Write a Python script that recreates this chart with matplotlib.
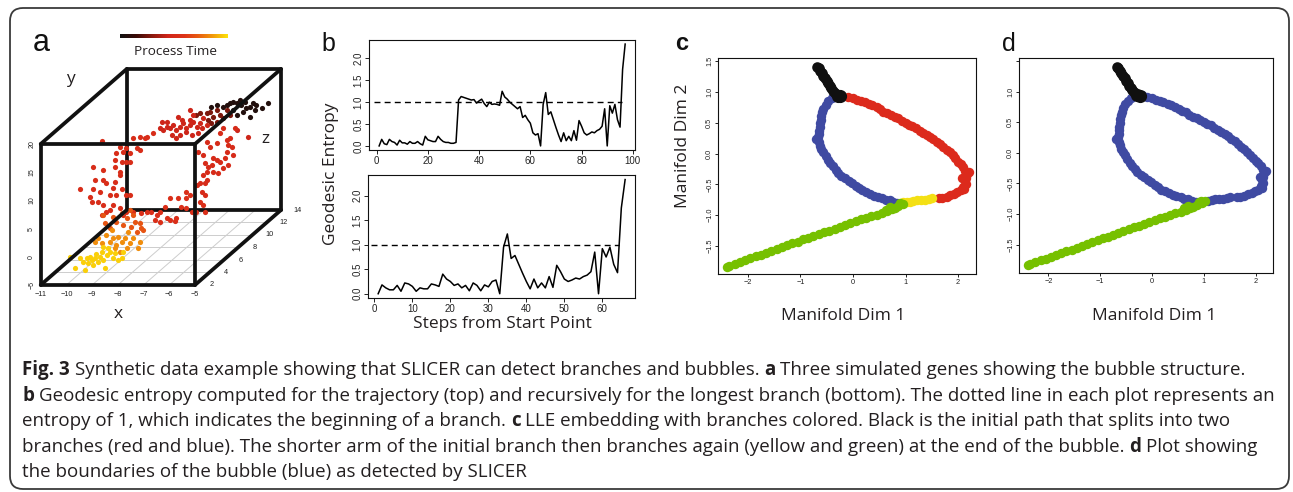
import matplotlib
matplotlib.use("Agg")
import matplotlib.pyplot as plt
import numpy as np
from matplotlib.colors import LinearSegmentedColormap
from matplotlib.patches import FancyBboxPatch
from matplotlib.transforms import IdentityTransform
from matplotlib.ticker import FuncFormatter

plt.rcParams['font.family'] = ['Liberation Sans', 'DejaVu Sans']
plt.rcParams['axes.unicode_minus'] = True
LABEL_FONT = ['Open Sans', 'DejaVu Sans']
INK = '#231f20'

# ======================= DATA =======================
# ---- panel a: three simulated genes (x, y, z) grouped by process-time colour ----
yellow_x = [-10.14, -9.95, -9.75, -9.62, -9.56, -9.49, -9.43, -9.36, -9.30, -9.23, -9.17, -9.11, -9.04,
            -8.98, -8.91, -8.85, -8.78, -8.72, -8.59, -8.46, -8.39, -8.26, -8.13, -8.07, -8.85, -8.65]
yellow_y = [-1.2, -3.15, -1.38, -1.97, -3.45, -1.38, -2.27, -1.08, -1.68, -2.56, -1.38, -0.67, -1.97,
            -1.08, -0.2, -1.68, -3.15, -0.79, -0.2, -1.38, -0.49, -1.68, -1.38, -0.2, 0.69, 0.39]
orange_x = [-9.45, -9.32, -9.19, -9.0, -8.87, -8.74, -8.61, -8.54, -8.41, -8.28, -8.15, -8.09, -7.96,
            -7.77, -7.70, -8.67, -8.48, -8.22, -8.80]
orange_y = [0.47, 1.06, 0.17, 1.65, 0.47, 1.06, -0.13, 1.35, 0.47, 1.06, 2.24, 0.17, 1.06,
            -0.72, 0.47, -0.72, -1.31, -0.72, 2.53]
orangered_x = [-9.20, -9.01, -8.75, -8.49, -8.36, -8.17, -8.04, -7.97, -7.78, -8.10, -8.55, -8.88,
               -9.27, -8.23, -7.84, -7.71]
orangered_y = [3.17, 2.28, 3.46, 2.87, 4.05, 2.57, 3.46, 1.69, 2.28, 4.64, 4.94, 4.35,
               4.64, 5.53, 3.17, 1.98]
leftarm_x = [-9.47, -9.28, -9.15, -9.02, -8.76, -8.63, -8.50, -8.89, -8.50, -8.37,
             -9.41, -9.60, -9.86, -9.92, -10.31, -9.79, -9.54, -9.15, -9.02, -8.69,
             -9.73, -9.41, -9.28, -8.95, -8.76, -9.79, -9.41, -8.95, -8.76, -8.69,
             -8.50, -8.37, -8.95, -8.89, -8.63, -8.50, -8.11, -7.98, -8.37, -8.76,
             -8.24, -7.98, -7.79, -9.47, -7.72, -7.46]
leftarm_y = [4.09, 4.68, 4.98, 5.87, 5.28, 4.09, 4.68, 7.64, 7.64, 7.64,
             5.87, 6.46, 6.46, 7.34, 8.7, 8.7, 8.23, 7.64, 8.82, 8.7,
             10.3, 10.3, 9.71, 10.0, 11.19, 12.66, 12.07, 12.66, 11.78, 13.55,
             13.55, 13.55, 13.85, 15.03, 15.32, 15.91, 15.91, 15.62, 15.03, 16.21,
             17.69, 17.98, 17.69, 17.21, 17.98, 18.57]
floor_x = [-8.52, -8.20, -8.0, -7.81, -7.61, -7.48, -7.68, -7.48, -7.22, -7.10, -6.90, -6.84, -7.29,
           -7.10, -6.77, -6.45, -6.25, -6.06, -5.74, -6.45, -6.32, -5.93, -5.80, -6.45, -6.64]
floor_y = [3.57, 3.28, 3.57, 3.46, 2.98, 3.57, 2.10, 1.8, 2.39, 2.1, 1.92, 2.39, 4.46,
           5.94, 5.94, 5.94, 3.57, 3.57, 3.57, 7.12, 6.53, 5.35, 4.76, 4.17, 4.46]
rightarm_x = [-6.61, -6.48, -6.29, -6.22, -6.41, -6.29, -6.35, -6.22, -6.16, -6.03, -5.96, -5.83,
              -5.77, -5.70, -5.57, -5.51, -5.44, -5.38, -5.25, -5.44, -5.31, -5.18, -5.12, -5.57,
              -5.70, -5.83, -6.09, -6.22, -6.54, -6.35, -6.29, -5.96, -5.38]
rightarm_y = [6.08, 6.38, 6.38, 6.97, 4.9, 4.31, 7.86, 8.45, 9.33, 9.63, 10.81, 10.52,
              8.15, 10.22, 9.04, 10.81, 11.99, 13.17, 12.88, 14.06, 14.36, 11.4, 16.13, 16.13,
              15.24, 13.47, 12.88, 13.77, 11.99, 11.4, 9.92, 8.45, 9.63]
upper_x = [-8.59, -8.46, -8.33, -8.21, -8.08, -7.95, -7.82, -7.69, -7.56, -7.43, -7.30, -7.17,
           -7.56, -7.36, -7.82, -7.95, -8.14, -8.53, -8.33, -7.88, -7.75, -7.43, -7.30, -7.04,
           -6.91, -6.97, -6.78, -7.10, -7.43, -5.16, -5.61]
upper_y = [13.92, 13.62, 14.22, 13.92, 14.51, 13.62, 14.22, 14.81, 13.92, 14.51, 15.1, 14.22,
           13.33, 12.74, 12.74, 12.15, 12.74, 15.1, 15.1, 15.99, 15.4, 15.4, 16.28, 14.81,
           15.69, 13.92, 14.51, 13.03, 17.17, 12.44, 13.62]
brown_x = [-7.59, -7.46, -7.20, -7.07, -6.94, -6.81, -6.68, -6.55, -6.81, -7.01, -7.14, -6.42, -6.29]
brown_y = [14.61, 14.91, 14.91, 15.2, 14.32, 15.5, 14.61, 14.02, 13.43, 13.14, 13.73, 15.5, 14.61]
dark_x = [-7.29, -7.09, -6.83, -6.70, -6.57, -6.44, -6.31, -6.19, -6.12, -5.99, -5.93, -5.80,
          -5.67, -5.54, -5.34, -5.08, -5.80, -6.31, -6.44, -6.06, -5.60]
dark_y = [14.99, 15.29, 14.99, 15.29, 15.58, 15.88, 15.58, 16.17, 15.29, 15.88, 14.7, 14.99,
          15.58, 15.29, 14.7, 15.58, 13.22, 13.51, 14.4, 14.1, 14.4]
# depth (gene z) and process time of each group, in drawing order
group_x = [dark_x, brown_x, upper_x, rightarm_x, floor_x, leftarm_x, orangered_x, orange_x, yellow_x]
group_y = [dark_y, brown_y, upper_y, rightarm_y, floor_y, leftarm_y, orangered_y, orange_y, yellow_y]
group_z = [12.5, 11.5, 10.0, 8.0, 6.0, 5.0, 4.5, 4.0, 3.0]
group_time = [0.06, 0.27, 0.44, 0.5, 0.55, 0.52, 0.7, 0.83, 0.96]

a_xlim, a_ylim, a_zlim = (-11, -5), (-5, 20), (2, 14)
a_xticks = [-11, -10, -9, -8, -7, -6, -5]
a_yticks = [-5, 0, 5, 10, 15, 20]
a_zticks = [2, 4, 6, 8, 10, 12, 14]

# ---- panel b: geodesic entropy ----
entropy_top = [0.0, 0.15, 0.05, 0.03, 0.15, 0.1, 0.08, 0.02, 0.13, 0.07, 0.07, 0.04, 0.1, 0.06, 0.06,
               0.1, 0.05, 0.02, 0.22, 0.14, 0.12, 0.1, 0.1, 0.22, 0.15, 0.1, 0.08, 0.08, 0.06, 0.06,
               0.08,
               1.05, 1.13, 1.11, 1.09, 1.07, 1.05, 1.06, 0.98, 1.03, 1.07, 0.97, 0.9, 1.0, 0.95, 0.96,
               0.95, 0.93, 1.25, 1.12, 1.07, 1.0, 0.95, 0.9, 0.85, 0.9, 0.65, 0.7, 0.6, 0.52, 0.3,
               0.25, 0.28, 0.0,
               0.95, 1.22, 0.72, 0.78, 0.6, 0.42, 0.25, 0.1, 0.3, 0.12, 0.22, 0.12, 0.35, 0.13, 0.58,
               0.45, 0.3, 0.25, 0.28, 0.32, 0.3, 0.35, 0.38, 0.45, 0.85, 0.0, 0.92, 0.75, 0.95, 0.6,
               0.43, 1.75, 2.33]
entropy_bottom = [0.0, 0.18, 0.12, 0.08, 0.08, 0.17, 0.05, 0.22, 0.2, 0.15, 0.05, 0.12, 0.1, 0.1, 0.2,
                  0.18, 0.15, 0.4, 0.3, 0.25, 0.17, 0.2, 0.12, 0.17, 0.06, 0.22, 0.17, 0.06, 0.18, 0.14,
                  0.25, 0.28, 0.0, 0.95, 1.22, 0.72, 0.78, 0.6, 0.42, 0.25, 0.1, 0.3, 0.12, 0.22, 0.12,
                  0.35, 0.13, 0.58, 0.45, 0.3, 0.25, 0.28, 0.32, 0.3, 0.35, 0.38, 0.45, 0.85, 0.0, 0.92,
                  0.75, 0.95, 0.6, 0.43, 1.75, 2.33]
entropy_threshold = 1.0
threshold_span_top = [-1.2, 95.6]
threshold_span_bottom = [-1.0, 64.4]
b_yticks = [0.0, 0.5, 1.0, 1.5, 2.0]
b_xticks_top = [0, 20, 40, 60, 80, 100]
b_xticks_bottom = [0, 10, 20, 30, 40, 50, 60]

# ---- panels c, d: LLE embedding ----
black_x = [-0.68, -0.65, -0.62, -0.59, -0.56, -0.53, -0.50, -0.47, -0.44, -0.41, -0.38, -0.35]
black_y = [1.41, 1.38, 1.34, 1.30, 1.26, 1.22, 1.18, 1.14, 1.10, 1.06, 1.02, 0.99]
black_end_x = [-0.29, -0.24]
black_end_y = [0.94, 0.93]
red_x = [-0.20, -0.10, 0.00, 0.08, 0.15, 0.22, 0.30, 0.37, 0.45, 0.52, 0.58, 0.65, 0.72, 0.80, 0.86,
         0.93, 1.00, 1.07, 1.13, 1.20, 1.27, 1.34, 1.40, 1.47, 1.53, 1.60, 1.66, 1.72, 1.78, 1.84,
         1.90, 1.95, 2.00, 2.05, 2.10, 2.14, 2.17, 2.20, 2.08, 2.15, 2.13, 2.15, 2.12, 2.10, 2.05,
         1.98, 1.92, 1.85, 1.78, 1.70, 1.64]
red_y = [0.94, 0.92, 0.90, 0.87, 0.85, 0.83, 0.80, 0.78, 0.75, 0.72, 0.68, 0.66, 0.62, 0.59, 0.57,
         0.53, 0.50, 0.47, 0.45, 0.41, 0.37, 0.34, 0.30, 0.27, 0.23, 0.19, 0.15, 0.10, 0.06, 0.02,
         -0.03, -0.08, -0.13, -0.17, -0.22, -0.28, -0.33, -0.30, -0.40, -0.39, -0.45, -0.50, -0.58,
         -0.55, -0.60, -0.63, -0.66, -0.68, -0.71, -0.73, -0.73]
blue_x = [-0.32, -0.40, -0.47, -0.52, -0.56, -0.58, -0.60, -0.61, -0.62, -0.63, -0.64, -0.64, -0.66,
          -0.70, -0.64, -0.62, -0.60, -0.56, -0.52, -0.48, -0.43, -0.38, -0.33, -0.28, -0.22, -0.15,
          -0.08, -0.02, 0.05, 0.12, 0.18, 0.25, 0.32, 0.40, 0.47, 0.55, 0.62, 0.70, 0.77, 0.84]
blue_y = [0.95, 0.90, 0.85, 0.79, 0.73, 0.67, 0.61, 0.55, 0.49, 0.43, 0.37, 0.31, 0.26, 0.23, 0.18,
          0.12, 0.07, 0.02, -0.04, -0.10, -0.16, -0.21, -0.27, -0.32, -0.36, -0.40, -0.44, -0.48,
          -0.52, -0.56, -0.60, -0.63, -0.66, -0.69, -0.71, -0.73, -0.75, -0.76, -0.78, -0.80]
yellow_cx = [0.95, 1.02, 1.08, 1.15, 1.22, 1.30, 1.37, 1.44, 1.50]
yellow_cy = [-0.79, -0.78, -0.78, -0.77, -0.76, -0.75, -0.75, -0.74, -0.73]
green_x = [0.96, 0.90, 0.86, 0.80, 0.74, 0.70, 0.62, 0.65, 0.55, 0.45, 0.35, 0.25, 0.15, 0.05, -0.05,
           -0.15, -0.25, -0.35, -0.45, -0.55, -0.65, -0.75, -0.85, -0.95, -1.05, -1.15, -1.25, -1.35,
           -1.45, -1.55, -1.65, -1.75, -1.85, -1.95, -2.05, -2.15, -2.25, -2.35, -2.39]
green_y = [-0.82, -0.81, -0.85, -0.88, -0.90, -0.87, -0.91, -0.93, -0.96, -0.99, -1.02, -1.05, -1.07,
           -1.10, -1.13, -1.16, -1.19, -1.22, -1.25, -1.28, -1.31, -1.34, -1.37, -1.39, -1.43, -1.46,
           -1.49, -1.52, -1.55, -1.59, -1.61, -1.64, -1.67, -1.70, -1.73, -1.76, -1.79, -1.82, -1.84]
bubble_split_x = 1.05   # yellow cells beyond this belong to the bubble (panel d)
m_xlim, m_ylim = (-2.56, 2.34), (-1.96, 1.545)
m_xticks = [-2, -1, 0, 1, 2]
m_yticks = [-1.5, -1.0, -0.5, 0.0, 0.5, 1.0, 1.5]

COL_RED, COL_BLUE, COL_GREEN, COL_YELLOW, COL_BLACK = '#dc2a1c', '#3f4aa2', '#76c000', '#f4e014', '#101010'

# ======================= FIGURE =======================
W, H = 1293, 492
fig = plt.figure(figsize=(W / 100, H / 100), dpi=100)
fig.patch.set_facecolor('white')


def ax_px(l, t, r, b):
    return fig.add_axes([l / W, 1 - b / H, (r - l) / W, (b - t) / H])


def fig_text(x, y, s, **kw):
    return fig.text(x / W, 1 - y / H, s, **kw)


def umin(v, fmt):
    return (fmt % v).replace('-', '\u2212')


# border
fig.add_artist(FancyBboxPatch((10, H - 489), 1279, 481, boxstyle="round,pad=0,rounding_size=13",
                              transform=IdentityTransform(), fill=False, edgecolor='#3a3a3a', lw=1.3))

# ---------------- panel a ----------------
cmap = LinearSegmentedColormap.from_list('ptime', [(0.0, '#121212'), (0.15, '#3a0a06'), (0.3, '#8c1a0e'),
                                                   (0.45, '#d2261a'), (0.6, '#de3418'), (0.72, '#e85a12'),
                                                   (0.86, '#f29a0a'), (1.0, '#fde30a')])
FL, FR, FB, FT = 40.7, 195.0, 285.0, 144.0      # front face in pixels
DPX, DPY = 86.0, 75.0                            # depth offset in pixels
AL, AT, AR, AB = 10, 58, 305, 302
axA = ax_px(AL, AT, AR, AB)
ppx = (FR - FL) / (a_xlim[1] - a_xlim[0])
ppy = (FB - FT) / (a_ylim[1] - a_ylim[0])
axA.set_xlim(a_xlim[0] - (FL - AL) / ppx, a_xlim[0] + (AR - FL) / ppx)
axA.set_ylim(a_ylim[0] - (AB - FB) / ppy, a_ylim[0] + (FB - AT) / ppy)
axA.axis('off')
kx = DPX / (a_zlim[1] - a_zlim[0]) / ppx
ky = DPY / (a_zlim[1] - a_zlim[0]) / ppy


def proj(x, y, z):
    x, y, z = np.asarray(x, float), np.asarray(y, float), np.asarray(z, float)
    return x + kx * (z - a_zlim[0]), y + ky * (z - a_zlim[0])


x0, x1 = a_xlim
y0, y1 = a_ylim
z0, z1 = a_zlim
for zt in a_zticks:
    u, v = proj([x0, x1], [y0, y0], [zt, zt])
    axA.plot(u, v, color='#cdcdcd', lw=0.7, zorder=0.5)
for xt in a_xticks[1:-1]:
    u, v = proj([xt, xt], [y0, y0], [z0, z1])
    axA.plot(u, v, color='#cdcdcd', lw=0.7, zorder=0.5)


def edge(p, q, zo):
    u, v = proj([p[0], q[0]], [p[1], q[1]], [p[2], q[2]])
    axA.plot(u, v, color='#111111', lw=2.7, solid_capstyle='round', zorder=zo)


sq = [(x0, y0), (x1, y0), (x1, y1), (x0, y1)]
for i in range(4):
    p, q = sq[i], sq[(i + 1) % 4]
    edge((p[0], p[1], z1), (q[0], q[1], z1), 1)
for i in range(4):
    p, q = sq[i], sq[(i + 1) % 4]
    edge((p[0], p[1], z0), (q[0], q[1], z0), 4)
    edge((p[0], p[1], z0), (p[0], p[1], z1), 4)

for gx, gy, gz, gt in zip(group_x, group_y, group_z, group_time):
    u, v = proj(gx, gy, [gz] * len(gx))
    axA.scatter(u, v, s=14, c=[cmap(gt)], linewidths=0, zorder=2)

for xt in a_xticks:
    u, v = proj(xt, y0, z0)
    axA.annotate(umin(xt, '%d'), (u, v), xytext=(0, -10), textcoords='offset pixels',
                 ha='center', va='center', fontsize=5.3, color='#222222')
for yt in a_yticks:
    u, v = proj(x0, yt, z0)
    axA.annotate(umin(yt, '%d'), (u, v), xytext=(-9, 0), textcoords='offset pixels',
                 ha='center', va='center', fontsize=5.0, rotation=90, color='#222222')
for zt in a_zticks:
    u, v = proj(x1, y0, zt)
    axA.annotate('%d' % zt, (u, v), xytext=(17, 0), textcoords='offset pixels',
                 ha='center', va='center', fontsize=5.3, color='#222222')

fig_text(118, 318, 'x', ha='center', va='baseline', fontsize=12.5, family=LABEL_FONT, color=INK)
fig_text(70, 83, 'y', ha='center', va='baseline', fontsize=12.5, family=LABEL_FONT, color=INK)
fig_text(265, 143, 'z', ha='center', va='baseline', fontsize=12.5, family=LABEL_FONT, color=INK)

cax = ax_px(120, 33.5, 228, 38.5)
cax.imshow(np.linspace(0, 1, 256)[None, :], aspect='auto', cmap=cmap)
cax.axis('off')
fig_text(175, 55, 'Process Time', ha='center', va='baseline', fontsize=9.7, family=LABEL_FONT, color=INK)

# ---------------- panel b ----------------
def style_r(ax, xt, yt, yfmt, xfmt, fs, tl):
    for s in ax.spines.values():
        s.set_linewidth(0.8)
        s.set_color('#111111')
    ax.set_xticks(xt)
    ax.set_yticks(yt)
    ax.xaxis.set_major_formatter(FuncFormatter(lambda v, p: umin(v, xfmt)))
    ax.yaxis.set_major_formatter(FuncFormatter(lambda v, p: umin(v, yfmt)))
    ax.tick_params(direction='out', length=tl, width=0.7, labelsize=fs, pad=1.5, colors='#222222')
    ax.tick_params(axis='y', labelrotation=90)
    for lab in ax.get_yticklabels():
        lab.set_va('center')


axB1 = ax_px(369.3, 40, 635, 150)
n1 = len(entropy_top)
axB1.plot(np.arange(1, n1 + 1), entropy_top, color='black', lw=1.1)
axB1.plot(threshold_span_top, [entropy_threshold] * 2, color='black', lw=1.0, ls=(0, (4.3, 3.0)))
axB1.set_xlim(1 - 0.04 * (n1 - 1), n1 + 0.04 * (n1 - 1))
axB1.set_ylim(-0.04 * max(entropy_top), max(entropy_top) * 1.04)
style_r(axB1, b_xticks_top, b_yticks, '%.1f', '%d', 7, 2.8)

axB2 = ax_px(368.3, 175, 635, 298.3)
n2 = len(entropy_bottom)
axB2.plot(np.arange(1, n2 + 1), entropy_bottom, color='black', lw=1.1)
axB2.plot(threshold_span_bottom, [entropy_threshold] * 2, color='black', lw=1.0, ls=(0, (4.3, 3.0)))
axB2.set_xlim(1 - 0.04 * (n2 - 1), n2 + 0.04 * (n2 - 1))
axB2.set_ylim(-0.04 * max(entropy_bottom), max(entropy_bottom) * 1.04)
style_r(axB2, b_xticks_bottom, b_yticks, '%.1f', '%d', 7, 2.8)

fig_text(331, 174, 'Geodesic Entropy', rotation=90, ha='center', va='center', fontsize=12.5,
         family=LABEL_FONT, color=INK)
fig_text(502, 328, 'Steps from Start Point', ha='center', va='baseline', fontsize=12.5,
         family=LABEL_FONT, color=INK)

# ---------------- panels c, d ----------------
S = 46
SB, SE = 58, 90
axC = ax_px(718.3, 58.3, 976, 274.3)
axC.scatter(blue_x, blue_y, s=S, c=COL_BLUE, linewidths=0)
axC.scatter(red_x, red_y, s=S, c=COL_RED, linewidths=0)
axC.scatter(yellow_cx, yellow_cy, s=S, c=COL_YELLOW, linewidths=0)
axC.scatter(green_x, green_y, s=S, c=COL_GREEN, linewidths=0)
axC.scatter(black_x, black_y, s=SB, c=COL_BLACK, linewidths=0)
axC.scatter(black_end_x, black_end_y, s=SE, c=COL_BLACK, linewidths=0)
axC.set_xlim(*m_xlim)
axC.set_ylim(*m_ylim)
style_r(axC, m_xticks, m_yticks, '%.1f', '%d', 5.3, 2.2)

axD = ax_px(1019.3, 58.3, 1273.3, 272.7)
yx = np.array(yellow_cx)
yy = np.array(yellow_cy)
in_bubble = yx > bubble_split_x
axD.scatter(blue_x, blue_y, s=S, c=COL_BLUE, linewidths=0)
axD.scatter(red_x, red_y, s=S, c=COL_BLUE, linewidths=0)
axD.scatter(yx[in_bubble], yy[in_bubble], s=S, c=COL_BLUE, linewidths=0)
axD.scatter(yx[~in_bubble], yy[~in_bubble], s=S, c=COL_GREEN, linewidths=0)
axD.scatter(green_x, green_y, s=S, c=COL_GREEN, linewidths=0)
axD.scatter(black_x, black_y, s=SB, c=COL_BLACK, linewidths=0)
axD.scatter(black_end_x, black_end_y, s=SE, c=COL_BLACK, linewidths=0)
axD.set_xlim(*m_xlim)
axD.set_ylim(*m_ylim)
style_r(axD, m_xticks, m_yticks, '%.1f', '%d', 5.3, 2.2)
axD.yaxis.set_major_formatter(FuncFormatter(lambda v, p: '' if v > 1.2 else umin(v, '%.1f')))

fig_text(683, 146, 'Manifold Dim 2', rotation=90, ha='center', va='center', fontsize=12.5,
         family=LABEL_FONT, color=INK)
fig_text(843, 320, 'Manifold Dim 1', ha='center', va='baseline', fontsize=12.5, family=LABEL_FONT, color=INK)
fig_text(1154, 320, 'Manifold Dim 1', ha='center', va='baseline', fontsize=12.5, family=LABEL_FONT, color=INK)

# panel letters
fig_text(33, 51, 'a', ha='left', va='baseline', fontsize=22, color='#111111')
fig_text(321, 51, 'b', ha='left', va='baseline', fontsize=18, color='#111111')
fig_text(675, 50, 'c', ha='left', va='baseline', fontsize=17, fontweight='bold', color='#111111')
fig_text(1002, 51, 'd', ha='left', va='baseline', fontsize=18, color='#111111')

# ---------------- caption ----------------
caption_lines = [
    [("Fig. 3", True), ("Synthetic data example showing that SLICER can detect branches and bubbles.", False),
     ("a", True), ("Three simulated genes showing the bubble structure.", False)],
    [("b", True), ("Geodesic entropy computed for the trajectory (top) and recursively for the longest branch "
                   "(bottom). The dotted line in each plot represents an", False)],
    [("entropy of 1, which indicates the beginning of a branch.", False), ("c", True),
     ("LLE embedding with branches colored. Black is the initial path that splits into two", False)],
    [("branches (red and blue). The shorter arm of the initial branch then branches again (yellow and green) "
      "at the end of the bubble.", False), ("d", True), ("Plot showing", False)],
    [("the boundaries of the bubble (blue) as detected by SLICER", False)],
]
CAP_FONT = ['Open Sans', 'DejaVu Sans']
renderer = fig.canvas.get_renderer()


def seg_w(txt, bold, size):
    t = fig.text(0, 0, txt, fontsize=size, family=CAP_FONT, fontweight='bold' if bold else 'normal')
    w = t.get_window_extent(renderer=renderer).width
    t.remove()
    return w


def line_w(segs, size):
    sp = seg_w('x x', False, size) - seg_w('xx', False, size)
    return sum(seg_w(t, b, size) for t, b in segs) + sp * (len(segs) - 1)


ref = 10.0
cap_size = ref * 1252.0 / line_w(caption_lines[1], ref)
space_w = seg_w('x x', False, cap_size) - seg_w('xx', False, cap_size)
baselines = [375, 400.7, 426.2, 451.8, 477.3]
for segs, yb in zip(caption_lines, baselines):
    x = 22.0
    for txt, bold in segs:
        fig_text(x, yb, txt, ha='left', va='baseline', fontsize=cap_size, family=CAP_FONT,
                 fontweight='bold' if bold else 'normal', color=INK)
        x += seg_w(txt, bold, cap_size) + space_w

fig.savefig('out.png', dpi=100, facecolor='white')
